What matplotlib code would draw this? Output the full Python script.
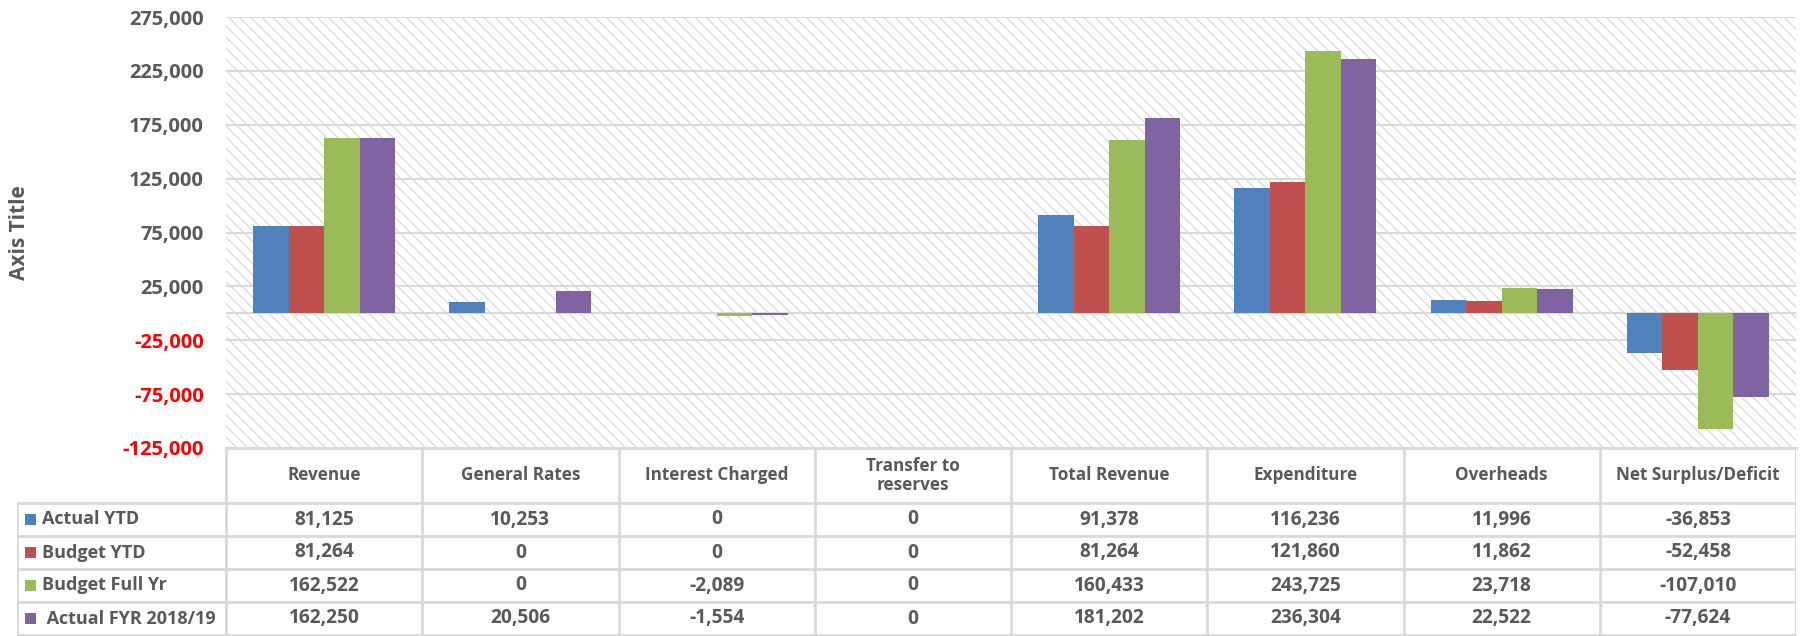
import numpy as np
import matplotlib
matplotlib.use("Agg")
import matplotlib.pyplot as plt
from matplotlib.patches import Rectangle

plt.rcParams['font.family'] = ['Open Sans', 'DejaVu Sans']
plt.rcParams['hatch.linewidth'] = 1.0

categories = ["Revenue", "General Rates", "Interest Charged", "Transfer to\nreserves",
              "Total Revenue", "Expenditure", "Overheads", "Net Surplus/Deficit"]
series_names = ["Actual YTD", "Budget YTD", "Budget Full Yr", " Actual FYR 2018/19"]
actual_ytd = [81125, 10253, 0, 0, 91378, 116236, 11996, -36853]
budget_ytd = [81264, 0, 0, 0, 81264, 121860, 11862, -52458]
budget_full = [162522, 0, -2089, 0, 160433, 243725, 23718, -107010]
actual_fyr = [162250, 20506, -1554, 0, 181202, 236304, 22522, -77624]
colors = ["#4F81BD", "#C0504D", "#9BBB59", "#8064A2"]
yticks = np.arange(-125000, 275001, 50000)

data = [actual_ytd, budget_ytd, budget_full, actual_fyr]
grey = "#595959"
W, H = 1805, 636

fig = plt.figure(figsize=(W / 100, H / 100), dpi=100)
fig.patch.set_facecolor("white")

# main plot area
px_l, px_r, px_t, px_b = 226, 1796, 17, 448
ax = fig.add_axes([px_l / W, 1 - px_b / H, (px_r - px_l) / W, (px_b - px_t) / H])
ax.add_patch(Rectangle((0, 0), 1, 1, transform=ax.transAxes, facecolor="white",
                       edgecolor="#dcdcdc", hatch="\\\\\\", linewidth=0, zorder=0))

x = np.arange(len(categories))
bw = 0.181
for k, (vals, c) in enumerate(zip(data, colors)):
    ax.bar(x + (k - 1.5) * bw, vals, bw, color=c, zorder=3)

ax.set_xlim(-0.5, len(categories) - 0.5)
ax.set_ylim(yticks[0], yticks[-1])
ax.set_yticks(yticks)
ax.set_yticklabels([f"{v:,}" for v in yticks], fontsize=14.5, fontweight="bold")
for lab, v in zip(ax.get_yticklabels(), yticks):
    lab.set_color("#FF0000" if v < 0 else grey)
ax.set_xticks([])
ax.tick_params(axis="y", length=0, pad=16)
ax.yaxis.grid(True, color="#d9d9d9", linewidth=1.5, zorder=1)
ax.set_axisbelow(True)
ax.axhline(0, color="#d9d9d9", linewidth=1.5, zorder=2)
for s in ax.spines.values():
    s.set_visible(False)

fig.text(20 / W, 1 - 233 / H, "Axis Title", rotation=90, ha="center", va="center",
         fontsize=15, fontweight="bold", color=grey)

# data table
tl, tr = 17, 1796
tax = fig.add_axes([tl / W, 0, (tr - tl) / W, (H - px_b) / H])
tax.set_xlim(0, tr - tl)
tax.set_ylim(H - px_b, 0)
tax.axis("off")
lc = "#d9d9d9"
col0 = px_l - tl
cw = (tr - px_l) / len(categories)
head_h = 55
row_h = 33

# grid lines
tax.plot([col0, tr - tl], [0, 0], color=lc, lw=2, clip_on=False)
tax.plot([0, tr - tl], [head_h, head_h], color=lc, lw=2)
for r in range(1, 5):
    tax.plot([0, tr - tl], [head_h + r * row_h] * 2, color=lc, lw=2)
tax.plot([0, 0], [head_h, H - px_b], color=lc, lw=2)
for c in range(len(categories) + 1):
    tax.plot([col0 + c * cw] * 2, [0, H - px_b], color=lc, lw=2)

for c, name in enumerate(categories):
    tax.text(col0 + (c + 0.5) * cw, head_h / 2, name, ha="center", va="center",
             fontsize=12.3, fontweight="bold", color=grey, linespacing=1.1)

for r, (name, vals, colr) in enumerate(zip(series_names, data, colors)):
    yc = head_h + (r + 0.5) * row_h
    tax.add_patch(Rectangle((8, yc - 5.5), 11, 11, facecolor=colr, edgecolor="none"))
    tax.text(25, yc, name, ha="left", va="center", fontsize=13,
             fontweight="bold", color=grey)
    for c, v in enumerate(vals):
        tax.text(col0 + (c + 0.5) * cw, yc, f"{v:,}", ha="center", va="center",
                 fontsize=13.8, fontweight="bold", color=grey)

fig.savefig("out.png", dpi=100)
